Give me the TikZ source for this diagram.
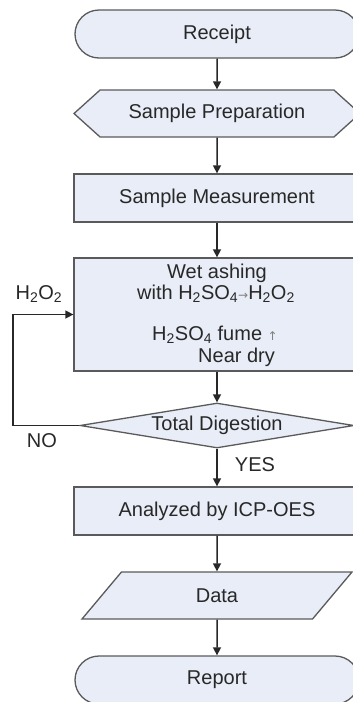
\documentclass[tikz,border=0pt]{standalone}
\usepackage{fontspec}
\setmainfont{Liberation Sans}
\newfontfamily\arrowfont{DejaVu Sans}
\usetikzlibrary{shapes.geometric,shapes.misc,shapes.symbols,arrows.meta}
\definecolor{boxfill}{RGB}{232,237,247}
\definecolor{boxline}{RGB}{90,90,90}
\definecolor{ink}{RGB}{40,40,40}
\newcommand{\sarrow}[1]{{\color{gray}\arrowfont\fontsize{12}{12}\selectfont #1}}
\begin{document}
\begin{tikzpicture}[x=1pt,y=-1pt,
  font=\fontsize{20}{22}\selectfont, text=ink,
  base/.style={draw=boxline, fill=boxfill, line width=1.3pt, inner sep=0pt},
  procbox/.style={base, rectangle, minimum width=286pt, minimum height=48pt},
  term/.style={base, rounded rectangle, minimum width=284pt, minimum height=48pt},
  prepbox/.style={base, signal, signal to=west and east, signal pointer angle=84,
    minimum width=286pt, minimum height=47pt},
  decision/.style={base, diamond, aspect=6, minimum width=274pt, minimum height=45pt},
  iobox/.style={base, trapezium, trapezium left angle=58, trapezium right angle=122,
    trapezium stretches=true, minimum width=271pt, minimum height=47pt},
  flow/.style={draw=ink, line width=1.5pt, -{Triangle[length=8pt,width=8pt]}},
  plain/.style={inner sep=0pt}
]
\useasboundingbox (0,0) rectangle (353,702);
\clip (0,0) rectangle (353,702);

% main column
\node[term]     (receipt) at (217,34)    {Receipt};
\node[prepbox]  (prep)    at (217,113.5) {Sample Preparation};
\node[procbox]  (meas)    at (217,198)   {Sample Measurement};
\node[procbox, minimum height=113pt] (wet) at (217,314.5) {};
\node[decision] (dec)     at (217,425.5) {Total Digestion};
\node[procbox]  (icp)     at (217,511)   {Analyzed by ICP-OES};
\node[iobox]    (data)    at (217,595.5) {Data};
\node[term]     (report)  at (217,680)   {Report};

% text inside the wet ashing box
\node[plain] (wet1) at (217,273) {Wet ashing};
\node[plain] (wet2) at (216,294) {with H\textsubscript{2}SO\textsubscript{4}\sarrow{→}H\textsubscript{2}O\textsubscript{2}};
\node[plain, anchor=west] (wet3) at (152,335) {H\textsubscript{2}SO\textsubscript{4} fume \sarrow{↑}};
\node[plain, anchor=west] (wet4) at (198,357) {Near dry};

% connectors
\draw[flow] (receipt) -- (prep);
\draw[flow] (prep) -- (meas);
\draw[flow] (meas) -- (wet);
\draw[flow] (wet) -- (dec);
\draw[flow] (dec) -- (icp);
\draw[flow] (icp) -- (data);
\draw[flow] (data) -- (report);

% loop back when digestion is incomplete
\coordinate (loop) at (13,425.5);
\draw[flow] (dec.west) -- (loop) |- (wet.west);

% labels
\node[plain] (h2o2) at (39,294) {H\textsubscript{2}O\textsubscript{2}};
\node[plain] (no)   at (42,441) {NO};
\node[plain] (yes)  at (255,465) {YES};
\end{tikzpicture}
\end{document}
